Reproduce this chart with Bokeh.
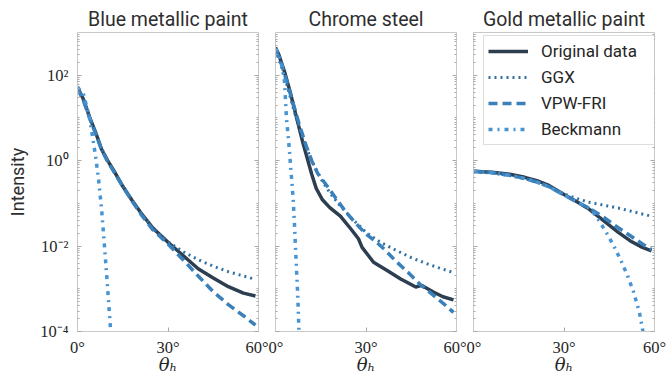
from bokeh.plotting import figure
from bokeh.models import Range1d, FixedTicker, LogAxis, CustomJSTickFormatter, Legend, LegendItem
from bokeh.layouts import row
from bokeh.embed import file_html
from bokeh.resources import INLINE

# ---------------- data ----------------
TITLES = ["Blue metallic paint", "Chrome steel", "Gold metallic paint"]
SERIES = ["Original data", "GGX", "VPW-FRI", "Beckmann"]
XTICKS = [0, 30, 60]
XTICK_LABELS = ["0°", "30°", "60°"]
YTICKS = [1e-4, 1e-2, 1, 1e2]
YTICK_LABELS = ["10⁻⁴", "10⁻²", "10⁰", "10²"]
XLABEL = "θₕ"
YLABEL = "Intensity"

# Blue metallic paint
blue_orig_t = [0, 2, 4, 6, 8, 10, 12, 15, 18, 21, 25, 30, 35, 40, 45, 50, 55, 59]
blue_orig_v = [52.5, 26.9, 10.5, 4.57, 1.82, 1.0, 0.589, 0.251, 0.120, 0.0603, 0.0263,
               0.0123, 0.00603, 0.00295, 0.00178, 0.00112, 0.00079, 0.00068]
blue_ggx_t = [0, 2, 4, 6, 8, 10, 12, 15, 18, 21, 25, 30, 35, 40, 45, 50, 55, 59]
blue_ggx_v = [48, 25, 10.5, 4.4, 1.9, 1.0, 0.58, 0.25, 0.12, 0.06, 0.026,
              0.0126, 0.0074, 0.00479, 0.00339, 0.00251, 0.0020, 0.00166]
blue_vpw_t = [0, 2, 4, 6, 8, 10, 12, 15, 18, 21, 25, 30, 35, 40, 45, 50, 55, 59]
blue_vpw_v = [50, 25, 10, 4.3, 1.8, 0.95, 0.56, 0.25, 0.115, 0.056, 0.024,
              0.0112, 0.00479, 0.0020, 0.00085, 0.000427, 0.000234, 0.000141]
blue_beck_t = [0, 2, 4, 6, 7, 8, 9, 10, 11, 11.5]
blue_beck_v = [52.5, 35.5, 10.0, 1.26, 0.355, 0.0708, 0.0089, 0.0010, 0.0001, 0.00002]

# Chrome steel
chrome_orig_t = [0, 1, 3, 5, 7, 9, 10.5, 12, 13.5, 15.5, 18, 21.5, 25, 27.5, 28.7, 30,
                 32.5, 37, 41.5, 46.5, 48.5, 52.5, 55.5, 59]
chrome_orig_v = [447, 316, 120, 37.2, 10.0, 2.75, 1.15, 0.479, 0.224, 0.123, 0.0794, 0.0501,
                 0.0251, 0.0148, 0.00933, 0.00708, 0.00417, 0.00269, 0.0017, 0.0011, 0.0012,
                 0.00083, 0.00065, 0.00055]
chrome_ggx_t = [0, 2, 4, 6, 8, 10, 12, 15, 18, 21, 25, 30, 35, 40, 45, 50, 55, 59]
chrome_ggx_v = [398, 158, 52.5, 15.8, 5.62, 2.24, 1.0, 0.380, 0.178, 0.0955, 0.0468, 0.0209,
                0.0120, 0.00794, 0.00537, 0.00389, 0.00295, 0.0024]
chrome_vpw_t = [0, 2, 4, 6, 8, 10, 12, 14, 17.5, 20, 23, 26, 30, 33, 36, 40, 44, 48, 52, 56, 59]
chrome_vpw_v = [417, 178, 63.1, 20.0, 6.61, 2.40, 1.0, 0.501, 0.234, 0.132, 0.0676, 0.038,
                0.0191, 0.0132, 0.00851, 0.00437, 0.0024, 0.00126, 0.00074, 0.00043, 0.00028]
chrome_beck_t = [0, 1, 2, 3, 3.6, 4.1, 4.6, 5.0, 5.5, 5.9, 6.3, 6.6, 7.0, 7.4, 7.7, 8.0]
chrome_beck_v = [417, 316, 191, 69.2, 10.7, 4.37, 1.82, 0.741, 0.275, 0.112, 0.0316, 0.01,
                 0.00251, 0.00063, 0.00014, 0.00004]

# Gold metallic paint
gold_orig_t = [0, 6, 12, 17, 21, 25, 30, 34, 38, 43, 48, 52, 56, 59]
gold_orig_v = [0.562, 0.537, 0.479, 0.407, 0.339, 0.263, 0.162, 0.112, 0.0759, 0.0398,
               0.0209, 0.0132, 0.00933, 0.00776]
gold_ggx_t = [0, 6, 12, 17, 21, 25, 30, 34, 38, 43, 48, 52, 56, 59]
gold_ggx_v = [0.550, 0.513, 0.447, 0.380, 0.316, 0.251, 0.166, 0.132, 0.107, 0.0912,
              0.0776, 0.0661, 0.0562, 0.0501]
gold_vpw_t = [0, 6, 12, 17, 21, 25, 30, 34, 38, 43, 48, 52, 56, 59]
gold_vpw_v = [0.562, 0.525, 0.457, 0.380, 0.316, 0.245, 0.158, 0.110, 0.0794, 0.0479,
              0.0269, 0.0174, 0.0112, 0.00832]
gold_beck_t = [0, 6, 12, 17, 21, 25, 30, 34, 38, 40, 42, 44, 46.5, 49, 51, 53, 55, 56, 57]
gold_beck_v = [0.562, 0.525, 0.457, 0.380, 0.316, 0.245, 0.158, 0.110, 0.0794, 0.0575,
               0.0355, 0.0209, 0.0102, 0.00437, 0.00209, 0.00087, 0.00028, 0.000117, 0.0000447]

PANELS = [
    [(blue_orig_t, blue_orig_v), (blue_ggx_t, blue_ggx_v), (blue_vpw_t, blue_vpw_v), (blue_beck_t, blue_beck_v)],
    [(chrome_orig_t, chrome_orig_v), (chrome_ggx_t, chrome_ggx_v), (chrome_vpw_t, chrome_vpw_v), (chrome_beck_t, chrome_beck_v)],
    [(gold_orig_t, gold_orig_v), (gold_ggx_t, gold_ggx_v), (gold_vpw_t, gold_vpw_v), (gold_beck_t, gold_beck_v)],
]

# ---------------- styles ----------------
STYLES = [
    dict(line_color="#2c3e50", line_width=3.5, line_dash="solid"),
    dict(line_color="#3170a3", line_width=3.0, line_dash="2 4"),
    dict(line_color="#3a80bb", line_width=3.5, line_dash="9 5"),
    dict(line_color="#4894d2", line_width=3.5, line_dash="4 5 2 5"),
]
SPINE = "#c8c8c8"
TICKC = "#a8a8a8"
TEXTC = "#262626"
SERIF = "Liberation Serif"

minor = []
for e in range(-4, 3):
    for k in range(1, 10):
        v = k * 10.0 ** e
        if k == 1 and e % 2 == 0:
            continue
        minor.append(v)


def style_yaxis(ax, labels):
    ax.ticker = FixedTicker(ticks=YTICKS, minor_ticks=minor)
    ax.axis_line_color = SPINE
    ax.major_tick_in = 4
    ax.major_tick_out = 0
    ax.minor_tick_in = 2
    ax.minor_tick_out = 0
    ax.major_tick_line_color = TICKC
    ax.minor_tick_line_color = TICKC
    if labels:
        ax.major_label_overrides = dict(zip(YTICKS, YTICK_LABELS))
        ax.major_label_text_font = SERIF
        ax.major_label_text_font_size = "16.5px"
        ax.major_label_text_color = TEXTC
        ax.major_label_standoff = 9
    else:
        ax.formatter = CustomJSTickFormatter(code="return ''")
        ax.major_label_standoff = 0


def make_fig(i, width, bl, br):
    p = figure(width=width, height=377, x_range=Range1d(0, 60), y_range=Range1d(1e-4, 1e3),
               y_axis_type="log", output_backend="svg", toolbar_location=None,
               min_border_left=bl, min_border_right=br, min_border_top=32, min_border_bottom=45)
    p.title.text = TITLES[i]
    p.title.align = "center"
    p.title.text_font = "Roboto"
    p.title.text_font_size = "19.5px"
    p.title.text_font_style = "normal"
    p.title.text_color = "#2e2e2e"
    p.title.standoff = 4
    p.outline_line_color = SPINE
    p.xgrid.visible = False
    p.ygrid.visible = False
    p.background_fill_color = "white"
    p.border_fill_color = "white"

    xa = p.xaxis[0]
    xa.ticker = FixedTicker(ticks=XTICKS, minor_ticks=[])
    xa.major_label_overrides = dict(zip(XTICKS, XTICK_LABELS))
    xa.major_label_text_font = SERIF
    xa.major_label_text_font_size = "16.5px"
    xa.major_label_text_color = TEXTC
    xa.major_label_standoff = 6
    xa.axis_line_color = SPINE
    xa.major_tick_in = 4
    xa.major_tick_out = 0
    xa.major_tick_line_color = TICKC
    xa.axis_label = XLABEL
    xa.axis_label_text_font = "DejaVu Serif"
    xa.axis_label_text_font_style = "italic"
    xa.axis_label_text_font_size = "18px"
    xa.axis_label_text_color = TEXTC
    xa.axis_label_standoff = -6

    ya = p.yaxis[0]
    style_yaxis(ya, i == 0)
    if i == 0:
        ya.axis_label = YLABEL
        ya.axis_label_text_font = "Roboto"
        ya.axis_label_text_font_style = "normal"
        ya.axis_label_text_font_size = "18px"
        ya.axis_label_text_color = "#2e2e2e"
        ya.axis_label_standoff = 9
    ra = LogAxis()
    style_yaxis(ra, False)
    p.add_layout(ra, "right")

    rs = []
    for (t, v), st in zip(PANELS[i], STYLES):
        rs.append(p.line(t, v, **st))
    return p, rs


p1, _ = make_fig(0, 268, 77, 10)
p2, _ = make_fig(1, 198, 7, 10)
p3, rs3 = make_fig(2, 201, 7, 13)

legend = Legend(items=[LegendItem(label=s, renderers=[r]) for s, r in zip(SERIES, rs3)],
                location=(10, 186))
legend.border_line_color = "#bdbdbd"
legend.border_line_width = 1
legend.background_fill_color = "white"
legend.background_fill_alpha = 1
legend.label_text_font = "Roboto"
legend.label_text_font_size = "17px"
legend.label_text_color = TEXTC
legend.padding = 4
legend.spacing = 4
legend.margin = 0
legend.glyph_width = 40
legend.glyph_height = 22
legend.label_height = 22
legend.label_width = 110
legend.label_standoff = 13
p3.add_layout(legend, "center")

layout = row(p1, p2, p3)
open("out.html", "w").write(file_html(layout, INLINE))
